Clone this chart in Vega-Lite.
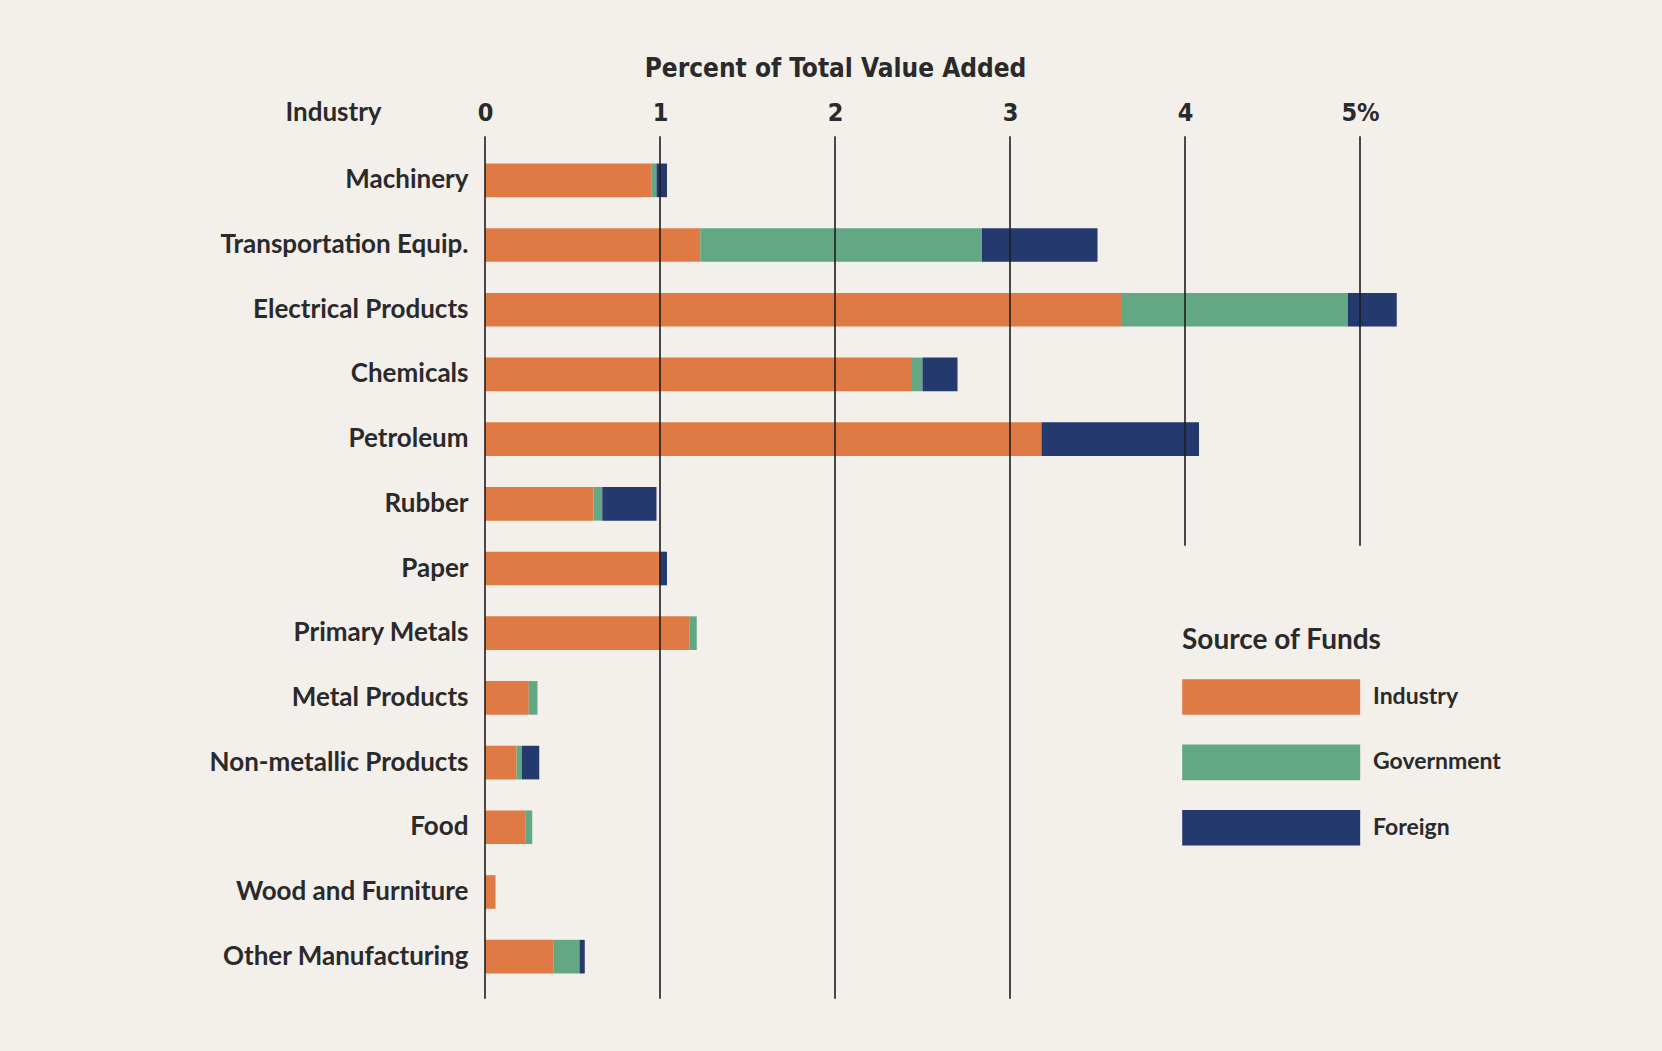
{
  "$schema": "https://vega.github.io/schema/vega-lite/v6.json",
  "autosize": {"type": "none"},
  "width": 927.5,
  "height": 863,
  "padding": {"left": 485, "top": 137, "right": 249.5, "bottom": 51},
  "background": "#f3efeb",
  "config": {
    "view": {"stroke": null},
    "font": "Lato"
  },
  "datasets": {
    "bars": [
      {"industry": "Machinery", "source": "Industry", "value": 0.95},
      {"industry": "Machinery", "source": "Government", "value": 0.03},
      {"industry": "Machinery", "source": "Foreign", "value": 0.06},
      {"industry": "Transportation Equip.", "source": "Industry", "value": 1.23},
      {"industry": "Transportation Equip.", "source": "Government", "value": 1.61},
      {"industry": "Transportation Equip.", "source": "Foreign", "value": 0.66},
      {"industry": "Electrical Products", "source": "Industry", "value": 3.64},
      {"industry": "Electrical Products", "source": "Government", "value": 1.29},
      {"industry": "Electrical Products", "source": "Foreign", "value": 0.28},
      {"industry": "Chemicals", "source": "Industry", "value": 2.44},
      {"industry": "Chemicals", "source": "Government", "value": 0.06},
      {"industry": "Chemicals", "source": "Foreign", "value": 0.2},
      {"industry": "Petroleum", "source": "Industry", "value": 3.18},
      {"industry": "Petroleum", "source": "Foreign", "value": 0.9},
      {"industry": "Rubber", "source": "Industry", "value": 0.62},
      {"industry": "Rubber", "source": "Government", "value": 0.05},
      {"industry": "Rubber", "source": "Foreign", "value": 0.31},
      {"industry": "Paper", "source": "Industry", "value": 1.0},
      {"industry": "Paper", "source": "Foreign", "value": 0.04},
      {"industry": "Primary Metals", "source": "Industry", "value": 1.17},
      {"industry": "Primary Metals", "source": "Government", "value": 0.04},
      {"industry": "Metal Products", "source": "Industry", "value": 0.25},
      {"industry": "Metal Products", "source": "Government", "value": 0.05},
      {"industry": "Non-metallic Products", "source": "Industry", "value": 0.18},
      {"industry": "Non-metallic Products", "source": "Government", "value": 0.03},
      {"industry": "Non-metallic Products", "source": "Foreign", "value": 0.1},
      {"industry": "Food", "source": "Industry", "value": 0.23},
      {"industry": "Food", "source": "Government", "value": 0.04},
      {"industry": "Wood and Furniture", "source": "Industry", "value": 0.06},
      {"industry": "Other Manufacturing", "source": "Industry", "value": 0.39},
      {"industry": "Other Manufacturing", "source": "Government", "value": 0.15},
      {"industry": "Other Manufacturing", "source": "Foreign", "value": 0.03}
    ],
    "lines": [
      {"v": 0, "from": "Machinery", "to": "Other Manufacturing"},
      {"v": 1, "from": "Machinery", "to": "Other Manufacturing"},
      {"v": 2, "from": "Machinery", "to": "Other Manufacturing"},
      {"v": 3, "from": "Machinery", "to": "Other Manufacturing"},
      {"v": 4, "from": "Machinery", "to": "Rubber"},
      {"v": 5, "from": "Machinery", "to": "Rubber"}
    ]
  },
  "layer": [
    {
      "data": {"name": "bars"},
      "mark": {"type": "bar"},
      "encoding": {
        "y": {
          "field": "industry",
          "type": "nominal",
          "scale": {
            "domain": ["Machinery", "Transportation Equip.", "Electrical Products", "Chemicals", "Petroleum", "Rubber", "Paper", "Primary Metals", "Metal Products", "Non-metallic Products", "Food", "Wood and Furniture", "Other Manufacturing"],
            "paddingInner": 0.48,
            "paddingOuter": 0.41
          },
          "axis": {
            "title": "Industry",
            "titleAngle": 0,
            "titleX": -152,
            "titleY": -17,
            "titleAlign": "center",
            "titleBaseline": "alphabetic",
            "titleFont": "Lato",
            "titleFontSize": 26,
            "titleFontWeight": "bold",
            "titleColor": "#2a2a2a",
            "domain": false,
            "ticks": false,
            "labelPadding": 17,
            "labelLimit": 0,
            "labelFont": "Lato",
            "labelFontSize": 26,
            "labelFontWeight": "bold",
            "labelColor": "#2a2a2a"
          }
        },
        "x": {
          "field": "value",
          "type": "quantitative",
          "stack": "zero",
          "scale": {"domain": [0, 5.3], "nice": false},
          "axis": {
            "orient": "top",
            "values": [0, 1, 2, 3, 4, 5],
            "format": "d",
            "labelExpr": "datum.value == 5 ? '5%' : datum.label",
            "labelFlush": false,
            "grid": false,
            "domain": false,
            "ticks": false,
            "labelPadding": 12,
            "labelFont": "DejaVu Sans Condensed, DejaVu Sans, sans-serif",
            "labelFontSize": 25,
            "labelFontWeight": "bold",
            "labelColor": "#2a2a2a",
            "title": "Percent of Total Value Added",
            "titleFont": "DejaVu Sans Condensed, DejaVu Sans, sans-serif",
            "titleFontSize": 26,
            "titleFontWeight": "bold",
            "titleColor": "#2a2a2a",
            "titleX": 350,
            "titleY": -61,
            "titleAlign": "center",
            "titleBaseline": "alphabetic"
          }
        },
        "color": {
          "field": "source",
          "type": "nominal",
          "sort": ["Industry", "Government", "Foreign"],
          "scale": {
            "domain": ["Industry", "Government", "Foreign"],
            "range": ["#e07a44", "#64a784", "#24396e"]
          },
          "legend": {
            "title": "Source of Funds",
            "orient": "none",
            "legendX": 697,
            "legendY": 490,
            "padding": 0,
            "titleFont": "Lato",
            "titleFontSize": 28,
            "titleFontWeight": "bold",
            "titleColor": "#2a2a2a",
            "titleLimit": 0,
            "titlePadding": 24,
            "symbolType": "M-1,-1H9V1H-1Z",
            "symbolSize": 1267,
            "symbolStrokeWidth": 0,
            "symbolOpacity": 1,
            "labelOffset": 155,
            "labelFont": "Lato",
            "labelFontSize": 23,
            "labelFontWeight": "bold",
            "labelColor": "#2a2a2a",
            "labelBaseline": "middle",
            "labelLimit": 0,
            "rowPadding": 29.4
          }
        },
        "order": {"field": "sortkey", "type": "quantitative"}
      },
      "transform": [
        {"calculate": "indexof(['Industry','Government','Foreign'], datum.source)", "as": "sortkey"}
      ]
    },
    {
      "data": {"name": "lines"},
      "mark": {"type": "rule", "color": "#1e1e1e", "strokeWidth": 1.6, "yOffset": -44, "y2Offset": 42},
      "encoding": {
        "x": {"field": "v", "type": "quantitative"},
        "y": {"field": "from", "type": "nominal"},
        "y2": {"field": "to"}
      }
    }
  ]
}
